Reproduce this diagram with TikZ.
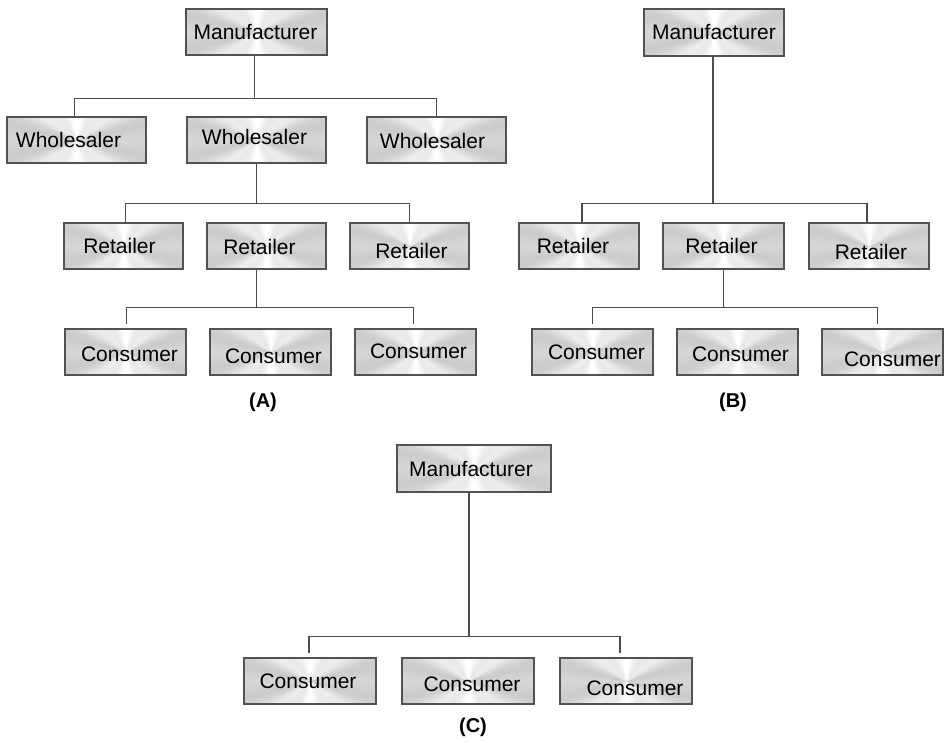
\documentclass[tikz,border=0pt]{standalone}
\usepackage{fontspec}
\setmainfont{Liberation Sans}
\begin{document}
% brushed-metal look: conic sweep, light above and below the centre, greyer to the sides
\pgfdeclarefunctionalshading{metal}{\pgfpoint{0bp}{0bp}}{\pgfpoint{100bp}{100bp}}{}{
  50.01 sub exch 50.01 sub 2 mul atan
  dup sin dup mul 0.16 mul 0.81 add
  exch 8 mul cos 0.03 mul add
  dup dup
}
\begin{tikzpicture}[x=1pt,y=-1pt,
  box/.style={draw=black!68, line width=1.1pt, shade, shading=metal, minimum height=46pt, inner sep=0pt},
  txt/.style={font=\fontsize{21}{25}\selectfont, text=black, inner sep=0pt},
  tag/.style={font=\bfseries\fontsize{20}{24}\selectfont, inner sep=0pt},
  link/.style={draw=black!70, line width=1.5pt},
  leaf/.style={link, shorten >=4pt, shorten <=4pt}]
\useasboundingbox (0,0) rectangle (944,742);

% ---------- (A) manufacturer -> wholesalers -> retailers -> consumers
\node[box, minimum width=141pt, label={[txt,xshift=-1pt]center:Manufacturer}] (mA) at (256.5,32) {};
\node[box, minimum width=139pt, label={[txt,xshift=-8pt]center:Wholesaler}] (wA1) at (76.5,140) {};
\node[box, minimum width=139pt, label={[txt,xshift=-2pt,yshift=3pt]center:Wholesaler}] (wA2) at (256.5,140) {};
\node[box, minimum width=139pt, label={[txt,xshift=-4pt,yshift=-1pt]center:Wholesaler}] (wA3) at (436.5,140) {};
\node[box, minimum width=119pt, label={[txt,xshift=-4pt]center:Retailer}] (rA1) at (123.5,246) {};
\node[box, minimum width=119pt, label={[txt,xshift=-7pt,yshift=-1pt]center:Retailer}] (rA2) at (266.5,246) {};
\node[box, minimum width=119pt, label={[txt,xshift=2pt,yshift=-5pt]center:Retailer}] (rA3) at (409.5,246) {};
\node[box, minimum width=121pt, label={[txt,xshift=4pt,yshift=-2pt]center:Consumer}] (cA1) at (125.5,352) {};
\node[box, minimum width=121pt, label={[txt,xshift=3pt,yshift=-4pt]center:Consumer}] (cA2) at (270.5,352) {};
\node[box, minimum width=121pt, label={[txt,xshift=3pt,yshift=1pt]center:Consumer}] (cA3) at (415.5,352) {};
\node[tag] (tA) at (263,402) {(A)};

\draw[link] ([xshift=-2pt]mA.south) -- ++(0,43) coordinate (jA1);
\draw[link] ([xshift=-2pt]wA1.north) |- (jA1) -| (wA3.north);
\draw[link] (wA2.south) -- ++(0,40) coordinate (jA2);
\draw[link] ([xshift=2pt]rA1.north) |- (jA2) -| (rA3.north);
\draw[link] (rA2.south -| jA2) -- ++(0,38) coordinate (jA3);
\draw[leaf] ([xshift=1pt]cA1.north) |- (jA3) -| ([xshift=-2pt]cA3.north);

% ---------- (B) manufacturer -> retailers -> consumers
\node[box, minimum width=140pt, minimum height=47pt, label={[txt]center:Manufacturer}] (mB) at (714,32.5) {};
\node[box, minimum width=120pt, label={[txt,xshift=-6pt]center:Retailer}] (rB1) at (579,246) {};
\node[box, minimum width=121pt, label={[txt,xshift=-2pt]center:Retailer}] (rB2) at (723.5,246) {};
\node[box, minimum width=120pt, label={[txt,xshift=2pt,yshift=-6pt]center:Retailer}] (rB3) at (869,246) {};
\node[box, minimum width=121pt, label={[txt,xshift=4pt]center:Consumer}] (cB1) at (592.5,352) {};
\node[box, minimum width=121pt, label={[txt,xshift=3pt,yshift=-2pt]center:Consumer}] (cB2) at (737.5,352) {};
\node[box, minimum width=121pt, label={[txt,xshift=10pt,yshift=-7pt]center:Consumer}] (cB3) at (882.5,352) {};
\node[tag] (tB) at (733,402) {(B)};

\draw[link] ([xshift=-1pt]mB.south) -- ++(0,147) coordinate (jB1);
\draw[link] ([xshift=3pt]rB1.north) |- (jB1) -| ([xshift=-2pt]rB3.north);
\draw[link] (rB2.south) -- ++(0,38) coordinate (jB2);
\draw[leaf] (cB1.north) |- (jB2) -| ([xshift=-5pt]cB3.north);

% ---------- (C) manufacturer -> consumers
\node[box, minimum width=154pt, minimum height=47pt, label={[txt,xshift=-3pt]center:Manufacturer}] (mC) at (474,468.5) {};
\node[box, minimum width=132pt, label={[txt,xshift=-2pt]center:Consumer}] (cC1) at (310,681) {};
\node[box, minimum width=132pt, label={[txt,xshift=4pt,yshift=-3pt]center:Consumer}] (cC2) at (468,681) {};
\node[box, minimum width=132pt, label={[txt,xshift=9pt,yshift=-7pt]center:Consumer}] (cC3) at (626,681) {};
\node[tag] (tC) at (473,727) {(C)};

\draw[link] ([xshift=-5pt]mC.south) -- ++(0,144) coordinate (jC);
\draw[leaf] ([xshift=-1pt]cC1.north) |- (jC) -| ([xshift=-6pt]cC3.north);
\end{tikzpicture}
\end{document}
